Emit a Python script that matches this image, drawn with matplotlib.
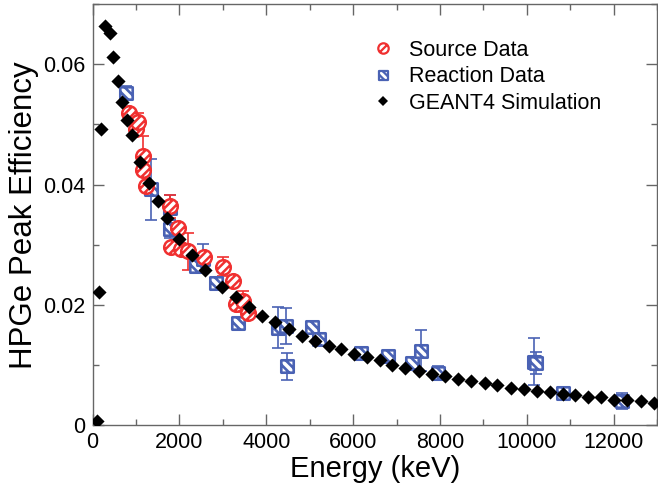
import matplotlib
matplotlib.use("Agg")
import numpy as np
import matplotlib.pyplot as plt
from matplotlib.path import Path
from matplotlib.lines import Line2D
from matplotlib.ticker import FixedLocator, MultipleLocator

plt.rcParams["font.family"] = ["Liberation Sans", "DejaVu Sans"]

# GEANT4 simulated full-energy peak efficiency
sim_energy = [100, 150, 195, 286, 401, 470, 584, 676, 790, 905, 1088, 1294,
              1500, 1707, 1982, 2302, 2600, 2990, 3310, 3608, 3906, 4204,
              4525, 4823, 5120, 5441, 5716, 6014, 6312, 6609, 6907, 7205,
              7526, 7824, 8121, 8419, 8717, 9038, 9313, 9633, 9931, 10229,
              10527, 10825, 11100, 11420, 11718, 12016, 12314, 12635, 12933]
sim_eff = [0.0008, 0.0222, 0.0492, 0.0663, 0.0652, 0.0612, 0.0572, 0.0537,
           0.0507, 0.0483, 0.0438, 0.0403, 0.0373, 0.0345, 0.0310, 0.0283,
           0.0258, 0.0230, 0.0213, 0.0197, 0.0182, 0.0172, 0.0160, 0.0148,
           0.0140, 0.0132, 0.0127, 0.0118, 0.0113, 0.0108, 0.0100, 0.0095,
           0.0090, 0.0085, 0.0082, 0.0077, 0.0073, 0.0070, 0.0067, 0.0063,
           0.0060, 0.0058, 0.0055, 0.0052, 0.0050, 0.0048, 0.0047, 0.0043,
           0.0042, 0.0040, 0.0038]

# Calibration source measurements
src_energy = [843, 997, 1042, 1164, 1164, 1242, 1776, 1966, 1810, 2043, 2188,
              2577, 2997, 3226, 3304, 3455, 3569]
src_eff = [0.0519, 0.0493, 0.0504, 0.0448, 0.0425, 0.0397, 0.0364, 0.0328,
           0.0297, 0.0293, 0.0289, 0.0279, 0.0264, 0.0240, 0.0201, 0.0206,
           0.0187]
src_err = [0.0005, 0.0005, 0.0015, 0.0032, 0.0006, 0.0006, 0.0019, 0.0006,
           0.0006, 0.0006, 0.0030, 0.0006, 0.0015, 0.0006, 0.0006, 0.0018,
           0.0006]

# In-beam reaction measurements
rxn_energy = [763, 1356, 1776, 1776, 2387, 2538, 2845, 3340, 4280, 4449, 4486,
              5058, 5212, 6190, 6800, 7350, 7565, 7961, 10160, 10218, 10825,
              12199]
rxn_eff = [0.0552, 0.0392, 0.0362, 0.0326, 0.0265, 0.0277, 0.0236, 0.0170,
           0.0162, 0.0165, 0.0098, 0.0164, 0.0144, 0.0120, 0.0115, 0.0103,
           0.0124, 0.0087, 0.0106, 0.0104, 0.0054, 0.0041]
rxn_err = [0.0012, 0.0050, 0.0020, 0.0015, 0.0008, 0.0024, 0.0008, 0.0008,
           0.0034, 0.0030, 0.0023, 0.0006, 0.0006, 0.0006, 0.0006, 0.0006,
           0.0034, 0.0012, 0.0039, 0.0018, 0.0005, 0.0013]

x_ticks = [0, 2000, 4000, 6000, 8000, 10000, 12000]
x_tick_labels = ["0", "2000", "4000", "6000", "8000", "10000", "12000"]
y_ticks = [0, 0.02, 0.04, 0.06]
y_tick_labels = ["0", "0.02", "0.04", "0.06"]

RED = "#f03030"
BLUE = "#4a62b4"


def striped_circle(offsets):
    """Unit circle outline with '/' chords at the given perpendicular offsets."""
    circ = Path.unit_circle()
    verts = list(circ.vertices)
    codes = list(circ.codes)
    u = np.array([1.0, 1.0]) / np.sqrt(2)
    n = np.array([-1.0, 1.0]) / np.sqrt(2)
    for d in offsets:
        h = np.sqrt(1 - d * d)
        verts += [d * n - h * u, d * n + h * u]
        codes += [Path.MOVETO, Path.LINETO]
    return Path(verts, codes)


def striped_square(offsets):
    """Square outline with '\\' chords at the given perpendicular offsets."""
    verts = [(-1, -1), (1, -1), (1, 1), (-1, 1), (-1, -1)]
    codes = [Path.MOVETO, Path.LINETO, Path.LINETO, Path.LINETO, Path.CLOSEPOLY]
    s2 = np.sqrt(2)
    for d in offsets:
        t0 = max(-s2 - d, d - s2)
        t1 = min(s2 - d, d + s2)
        for t, c in ((t0, Path.MOVETO), (t1, Path.LINETO)):
            verts.append(((d + t) / s2, (d - t) / s2))
            codes.append(c)
    return Path(verts, codes)


circle_marker = striped_circle([-0.42, 0.42])
square_marker = striped_square([-0.5, 0.5])

fig = plt.figure(figsize=(6.58, 4.84), dpi=100)
ax = fig.add_axes([0.1406, 0.1210, 0.858, 0.8707])

ax.errorbar(rxn_energy, rxn_eff, yerr=rxn_err, fmt="none", ecolor=BLUE,
            elinewidth=1.2, capsize=4, capthick=1.2, zorder=2)
ax.errorbar(src_energy, src_eff, yerr=src_err, fmt="none", ecolor=RED,
            elinewidth=1.2, capsize=4, capthick=1.2, zorder=3)

ax.scatter(rxn_energy, rxn_eff, marker=square_marker, s=80,
           facecolors="white", edgecolors=BLUE, linewidths=1.9, zorder=4)
ax.scatter(src_energy, src_eff, marker=circle_marker, s=110,
           facecolors="white", edgecolors=RED, linewidths=1.8, zorder=5)
ax.scatter(sim_energy, sim_eff, marker="D", s=52, color="black",
           linewidths=0, zorder=6)

ax.set_xlim(0, 13000)
ax.set_ylim(0, 0.07)
ax.xaxis.set_major_locator(FixedLocator(x_ticks))
ax.set_xticklabels(x_tick_labels)
ax.xaxis.set_minor_locator(MultipleLocator(1000))
ax.yaxis.set_major_locator(FixedLocator(y_ticks))
ax.set_yticklabels(y_tick_labels)
ax.yaxis.set_minor_locator(MultipleLocator(0.01))

ax.tick_params(which="both", direction="in", top=True, right=True,
               color="#666666", labelsize=15.5)
ax.tick_params(which="major", length=8, width=1, pad=5)
ax.tick_params(which="minor", length=4, width=1)
for sp in ax.spines.values():
    sp.set_color("#666666")
    sp.set_linewidth(1)

ax.set_xlabel("Energy (keV)", fontsize=21, labelpad=1)
ax.set_ylabel("HPGe Peak Efficiency", fontsize=22.5, labelpad=3)

handles = [
    Line2D([], [], ls="none", marker=striped_circle([0.0]), ms=7.5,
           mfc="white", mec=RED, mew=1.6),
    Line2D([], [], ls="none", marker=striped_square([-0.55, 0.55]), ms=6.5,
           mfc="white", mec=BLUE, mew=1.6),
    Line2D([], [], ls="none", marker="D", ms=5.5, mfc="black", mec="black",
           mew=0),
]
ax.legend(handles, ["Source Data", "Reaction Data", "GEANT4 Simulation"],
          loc="upper left", bbox_to_anchor=(0.48, 0.935), frameon=False,
          fontsize=15.5, numpoints=1, handlelength=1.0, handletextpad=0.7,
          labelspacing=0.25, borderaxespad=0)

fig.savefig("out.png", dpi=100)
